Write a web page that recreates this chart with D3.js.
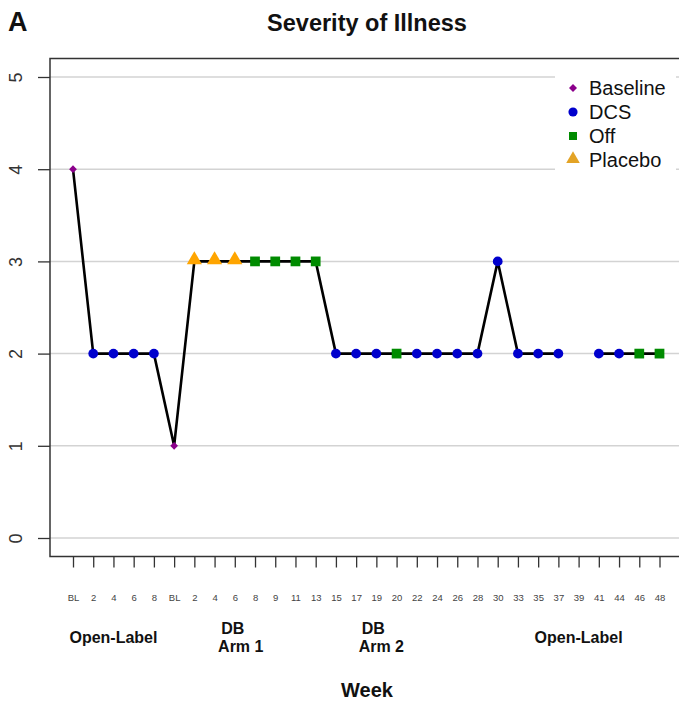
<!DOCTYPE html>
<html>
<head>
<meta charset="utf-8">
<script src="https://cdn.jsdelivr.net/npm/d3@7"></script>
<style>
  html, body { margin: 0; padding: 0; background: #fff; }
  text { font-family: "Liberation Sans", Arial, sans-serif; }
</style>
</head>
<body>
<svg id="chart" width="679" height="702"></svg>
<script>
// ---- data ----
const weekLabels = ["BL","2","4","6","8","BL","2","4","6","8","9","11","13","15","17","19","20","22","24","26","28","30","33","35","37","39","41","44","46","48"];
const severity   = [4,2,2,2,2,1,3,3,3,3,3,3,3,2,2,2,2,2,2,2,2,3,2,2,2,null,2,2,2,2];
const status     = ["Baseline","DCS","DCS","DCS","DCS","Baseline","Placebo","Placebo","Placebo","Off","Off","Off","Off","DCS","DCS","DCS","Off","DCS","DCS","DCS","DCS","DCS","DCS","DCS","DCS",null,"DCS","DCS","Off","Off"];
const yTicks = [0,1,2,3,4,5];
const legendItems = ["Baseline","DCS","Off","Placebo"];
const phaseLabels = [
  {lines:["Open-Label"], at:2, dx:[0]},
  {lines:["DB","Arm 1"], at:7.9, dx:[0,8]},
  {lines:["DB","Arm 2"], at:14.85, dx:[0,8]},
  {lines:["Open-Label"], at:25.0, dx:[0]}
];

const colors = {Baseline:"#8B008B", DCS:"#0000CD", Off:"#008B00", Placebo:"#FFA500"};
const legendColors = {Baseline:"#8B008B", DCS:"#0000CD", Off:"#008B00", Placebo:"#E3A325"};

// ---- layout ----
const svg = d3.select("#chart");
const box = {left:50, right:683, top:58.5, bottom:556.5};

const idx = d3.range(weekLabels.length);
const x = d3.scaleLinear().domain([0, weekLabels.length-1]).range([73, 659.5]);
const y = d3.scaleLinear().domain([0,5]).range([538, 77]);

// gridlines
svg.append("g").selectAll("line").data(yTicks).join("line")
  .attr("x1", box.left).attr("x2", box.right)
  .attr("y1", d=>y(d)).attr("y2", d=>y(d))
  .attr("stroke", "#d3d3d3").attr("stroke-width", 1.5);

// legend background (white fill, no border)
svg.append("rect").attr("x", 555).attr("y", 73).attr("width", 121).attr("height", 100).attr("fill", "#fff");

// plot box
svg.append("rect").attr("x", box.left).attr("y", box.top)
  .attr("width", box.right-box.left).attr("height", box.bottom-box.top)
  .attr("fill", "none").attr("stroke", "#333").attr("stroke-width", 1.5);

// y axis
const yAxis = d3.axisLeft(y).tickValues(yTicks).tickSize(12).tickFormat(d3.format("d"));
const gy = svg.append("g").attr("transform", `translate(${box.left},0)`).call(yAxis);
gy.attr("font-size", null).attr("font-family", null);
gy.select(".domain").remove();
gy.selectAll(".tick line").attr("stroke", "#333").attr("stroke-width", 1.3);
gy.selectAll(".tick text")
  .attr("x", 0).attr("y", 0).attr("dy", 0)
  .attr("transform", "translate(-28,0) rotate(-90)")
  .attr("text-anchor", "middle")
  .attr("font-size", "18px").attr("fill", "#333");

// x axis
const xAxis = d3.axisBottom(x).tickValues(idx).tickSize(11).tickFormat(i=>weekLabels[i]);
const gx = svg.append("g").attr("transform", `translate(0,${box.bottom})`).call(xAxis);
gx.attr("font-size", null).attr("font-family", null);
gx.select(".domain").remove();
gx.selectAll(".tick line").attr("stroke", "#333").attr("stroke-width", 1.3);
gx.selectAll(".tick text").attr("y", 44).attr("dy", 0)
  .attr("font-size", "9.5px").attr("fill", "#444");

// line (gap at missing week)
const line = d3.line().defined(i=>severity[i]!==null).x(i=>x(i)).y(i=>y(severity[i]));
svg.append("path").datum(idx).attr("d", line)
  .attr("fill","none").attr("stroke","#000").attr("stroke-width",2.6).attr("stroke-linejoin","round");

// points
const symType = {Baseline:d3.symbolSquare, DCS:d3.symbolCircle, Off:d3.symbolSquare, Placebo:d3.symbolTriangle};
const symSize = {Baseline:30, DCS:75, Off:95, Placebo:100};
const symRot  = {Baseline:45, DCS:0, Off:0, Placebo:0};
const pts = idx.filter(i=>severity[i]!==null);
svg.append("g").selectAll("path").data(pts).join("path")
  .attr("transform", i=>`translate(${x(i)},${y(severity[i]) + (status[i]==="Placebo"?-1.5:0)}) rotate(${symRot[status[i]]})`)
  .attr("d", i=>d3.symbol(symType[status[i]], symSize[status[i]])())
  .attr("fill", i=>colors[status[i]]);

// legend
const legSize = {Baseline:32, DCS:66, Off:64, Placebo:80};
const lg = svg.append("g");
legendItems.forEach((k,j)=>{
  const ly = 88 + j*24;
  lg.append("path").attr("transform", `translate(573,${ly + (k==="Placebo"?-1:0)}) rotate(${symRot[k]})`)
    .attr("d", d3.symbol(symType[k], legSize[k])())
    .attr("fill", legendColors[k]);
  lg.append("text").attr("x", 589).attr("y", ly+7).text(k)
    .attr("font-size","20px").attr("fill","#111");
});

// phase labels
phaseLabels.forEach(p=>{
  const cx = x(p.at);
  if (p.lines.length===1) {
    svg.append("text").attr("x", cx).attr("y", 643).attr("text-anchor","middle")
      .attr("font-size","16px").attr("font-weight","bold").attr("fill","#111").text(p.lines[0]);
  } else {
    svg.append("text").attr("x", cx+p.dx[0]).attr("y", 634).attr("text-anchor","middle")
      .attr("font-size","16px").attr("font-weight","bold").attr("fill","#111").text(p.lines[0]);
    svg.append("text").attr("x", cx+p.dx[1]).attr("y", 652).attr("text-anchor","middle")
      .attr("font-size","16px").attr("font-weight","bold").attr("fill","#111").text(p.lines[1]);
  }
});

// axis title
svg.append("text").attr("x", 367).attr("y", 697).attr("text-anchor","middle")
  .attr("font-size","20px").attr("font-weight","bold").attr("fill","#111").text("Week");

// main title
svg.append("text").attr("x", 367).attr("y", 31).attr("text-anchor","middle")
  .attr("font-size","23.5px").attr("font-weight","bold").attr("fill","#111").text("Severity of Illness");

// panel letter
svg.append("text").attr("x", 8).attr("y", 31)
  .attr("font-size","27px").attr("font-weight","bold").attr("fill","#111").text("A");
</script>
</body>
</html>
